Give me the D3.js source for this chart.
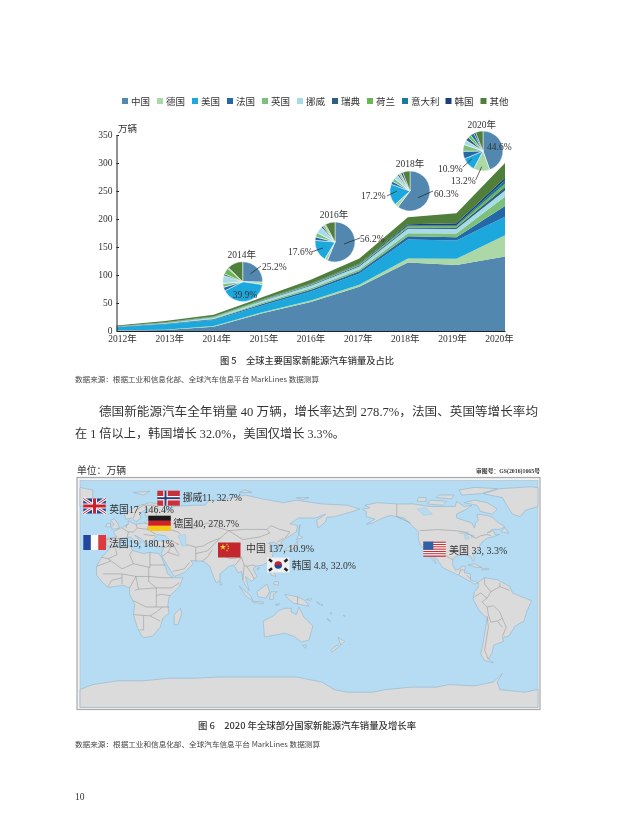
<!DOCTYPE html>
<html><head><meta charset="utf-8">
<script src="https://cdn.jsdelivr.net/npm/d3@7"></script>
<style>
html,body{margin:0;padding:0;background:#fff}
text{font-family:"Liberation Serif","Noto Sans CJK SC",serif;fill:#333}
.sans{font-family:"Noto Sans CJK SC","Liberation Sans",sans-serif}
svg{filter:blur(.3px)}
</style></head><body><div id="c"></div>
<script>
// ---------- chart data ----------
const years = ["2012","2013","2014","2015","2016","2017","2018","2019","2020"];
const seriesNames = ["中国","德国","美国","法国","英国","挪威","瑞典","荷兰","意大利","韩国","其他"];
const china   = [1,1.8,7.5,31.5,52,79,122.5,118,133];
const germany = [.3,.5,1.5,2,2.5,3.5,7,10.8,38];
const usa     = [5.5,9.6,10.5,12,16,20,34,33,33];
const france  = [.7,1.2,1.5,2.5,3,4,5.5,5.5,19];
const uk      = [.2,.4,1,2.5,3,3.5,5.5,7,17];
const norway  = [.5,1,2,3,4.5,5,8,8,11];
const sweden  = [.1,.2,.4,.8,1.2,1.8,2.5,2.5,6];
const nether  = [.3,.6,1.2,1.2,1.5,1.5,2,2.5,6];
const italy   = [.1,.1,.2,.3,.4,.8,1.2,1.5,6];
const korea   = [0,.1,.1,.3,.6,1.2,2.5,3.5,4.8];
const others  = [1.3,2.5,3,4,7,9,12.5,18,26];
const allSeries = [china,germany,usa,france,uk,norway,sweden,nether,italy,korea,others];
const yTicks = [0,50,100,150,200,250,300,350];

const pieYears = ["2014","2016","2018","2020"];
const share2014 = [25.2,2,39.9,3,3,6.5,1.5,5,.5,.4,12.5];
const share2016 = [56.2,2.5,17.6,2.8,3.5,5.5,1.5,1.5,.5,.6,7.8];
const share2018 = [60.3,3,17.2,2.5,2.8,3.5,1.4,1.3,.5,1.6,5.9];
const share2020 = [44.6,13.2,10.9,6.2,5.5,3.6,3,2.5,3,1.6,6];
const pieShares = [share2014,share2016,share2018,share2020];
const pieNotes = [["25.2%","39.9%"],["17.6%","56.2%"],["17.2%","60.3%"],["44.6%","10.9%","13.2%"]];

const mapCountries = ["英国","挪威","德国","法国","中国","韩国","美国"];
const mapSales  = ["17","11","40","19","137","4.8","33"];
const mapGrowth = ["146.4%","32.7%","278.7%","180.1%","10.9%","32.0%","3.3%"];

const caption5 = "图 5\u2003全球主要国家新能源汽车销量及占比";
const caption6 = "图 6\u20032020 年全球部分国家新能源汽车销量及增长率";
const sourceNote = "数据来源：根据工业和信息化部、全球汽车信息平台 MarkLines 数据测算";
const bodyLines = ["德国新能源汽车全年销量 40 万辆，增长率达到 278.7%，法国、英国等增长率均","在 1 倍以上，韩国增长 32.0%，美国仅增长 3.3%。"];

// ---------- map geometry (longitude / latitude, simplified outlines) ----------
const landRings = [
 // North America
 [[-168,66],[-162,67],[-166,69],[-156,71],[-141,70],[-128,70],[-115,68],[-108,68],[-95,68],[-94,72],[-88,68],[-82,69],[-86,66],[-94,62],[-94,59],[-88,57],[-82,55],[-80,51],[-79,55],[-77,57],[-78,62],[-70,61],[-65,59],[-61,55],[-56,52],[-60,50],[-66,50],[-70,47],[-65,49],[-64,46],[-60,46],[-66,44],[-70,43],[-74,40],[-76,37],[-76,35],[-81,31],[-80,26],[-81,25],[-83,29],[-89,30],[-94,29],[-97,27],[-97,22],[-95,18],[-91,19],[-90,21],[-87,21],[-88,16],[-83,15],[-83,10],[-79,9],[-77,8],[-80,7],[-85,10],[-92,14],[-97,16],[-105,20],[-109,26],[-113,31],[-114.5,31],[-112,27],[-110,23],[-112,25],[-116,30],[-118,34],[-122,37],[-124,42],[-124,48],[-130,54],[-135,59],[-146,61],[-152,59],[-160,55],[-165,54],[-158,58],[-165,60],[-165,64]],
 // South America
 [[-77,8],[-72,12],[-62,10.5],[-52,5],[-50,0],[-44,-2.5],[-35,-6],[-39,-15],[-41,-22],[-48,-26],[-53,-34],[-58,-35],[-57,-38],[-65,-41],[-66,-47],[-69,-52],[-65,-55],[-72,-53],[-75,-48],[-73,-38],[-70,-20],[-76,-14],[-81,-5],[-80,1],[-77,4]],
 // Africa
 [[-6,36],[10,37],[11,33.5],[20,31],[25,32],[32,31],[34,28],[37,21],[39,15],[43,12],[51,12],[48,5],[40,-3],[39,-10],[40,-16],[35,-20],[33,-27],[27,-34],[20,-35],[18,-33],[15,-27],[12,-17],[13,-9],[9,-1],[9,4],[4,6],[-4,5],[-8,4.5],[-13,9],[-17,14],[-17,21],[-13,28],[-10,31]],
 // Eurasia
 [[-9,37],[-9,43],[-1,44],[-4,48],[2,51],[8,54],[8,57],[11,55],[14,54],[21,55],[24,59],[30,60],[22,60],[21,63],[25,66],[22,66],[17,62],[18,59],[14,56],[11,59],[6,58],[5,62],[14,68],[25,71],[32,70],[41,67],[35,64.5],[40,65],[44,68],[60,69],[68,69],[72,73],[80,73],[100,77],[113,74],[130,71],[140,73],[160,70],[180,69],[-170,66],[179,62.5],[170,60],[164,59.5],[163,56],[157,51],[156,57],[163,62],[155,59],[142,59],[135,54.5],[141,53],[140,48],[132,43],[128,40],[129,36],[126,34.5],[126,38],[122,40],[118,39],[122,37],[119,35],[122,31],[120,26],[114,22],[108,21],[106,19],[109,13],[105,9],[100,13],[103,2],[100,6],[98,10],[97,17],[94,16],[91,22],[87,21],[80,15],[80,10],[77,8],[73,18],[72,21],[67,25],[57,25.5],[59,23],[52,16],[44,13],[39,21],[35,28],[34,31],[36,36],[27,37],[26,40],[29,41],[41,41],[37,45],[31,46],[28,42],[24,40],[23,37],[19,42],[13,45.5],[18,40],[16,38],[10,44],[3,43],[0,39],[-2,37],[-5,36]],
 // Greenland and Arctic islands
 [[-73,78],[-60,82],[-35,83.5],[-20,81],[-20,73],[-25,69],[-40,65],[-44,60],[-50,62],[-54,68],[-58,75]],
 [[-80,73],[-70,71],[-62,66],[-66,62],[-75,64],[-78,69],[-88,71]],
 [[-90,77],[-75,78],[-62,82],[-80,83],[-92,81]],
 [[-117,70],[-105,69],[-102,72],[-115,73]],
 [[-125,72],[-118,72],[-118,75],[-124,75]],
 [[-110,75],[-98,74],[-96,77],[-108,77]],
 // Atlantic and Caribbean
 [[-59,48],[-56,51.5],[-53,47]],
 [[-85,22],[-80,23],[-74,20],[-78,20]],
 [[-74,19],[-69,19.5],[-68.5,18.5],[-74,18]],
 [[-5,50],[1,51],[0,54],[-3,58.5],[-6,57],[-3,54],[-5,52]],
 [[-10,52],[-6,52],[-6,55],[-9,54.5]],
 [[-24,65],[-14,66],[-14,64.5],[-22,63.5]],
 [[12,79],[25,80],[20,77]],
 [[52,71],[68,77],[56,74]],
 [[95,79],[105,79],[100,81]],
 [[140,75],[150,75],[145,73.5]],
 // Asia Pacific
 [[130,33],[136,34],[141,36],[141,41],[139,38],[133,35.5]],
 [[140,42],[145,43.5],[142,45.5]],
 [[142,46],[143,54],[142,50]],
 [[120,23],[122,25],[121,22]],
 [[109,19],[111,20],[110,18]],
 [[120,18],[122,18],[124,13],[120,14]],
 [[122,7],[126,6],[126,9],[123,9]],
 [[95,5.5],[104,-2],[106,-6],[101,-3]],
 [[105,-6.5],[114,-7],[114,-8.5],[106,-7.5]],
 [[109,1],[117,7],[119,1],[116,-4],[110,-3]],
 [[119,-5],[120,1],[125,1],[122,-1],[122,-5]],
 [[131,-1],[141,-3],[147,-6],[150,-10.5],[143,-9],[138,-8],[133,-4]],
 [[124,-10],[127,-8.5],[123.5,-9]],
 [[148,-5],[152,-4.5],[151,-6]],
 [[156,-7],[161,-9.5],[159,-9.8]],
 [[164,-20],[167,-22],[166,-22.5]],
 [[167,-15],[168,-16.5],[167,-16.5]],
 [[177,-17.5],[178.5,-18],[177.5,-18.5]],
 [[114,-22],[122,-18],[126,-14],[131,-12],[136,-12],[136,-15],[140,-17],[142,-11],[146,-19],[153,-26],[150,-37],[144,-38.5],[138,-34],[131,-31.5],[124,-33],[115,-34.5]],
 [[145,-41],[148,-41],[147,-43.5]],
 [[173,-35],[178,-38],[175,-41]],
 [[172,-41],[174,-42],[168,-46.5],[167,-45]],
 [[49,-12],[50,-16],[47,-25],[44,-25],[44,-17]],
 [[80,9.5],[82,7],[80,6]],
 // Antarctica
 [[-180,-78],[-160,-78],[-150,-76],[-130,-74],[-110,-74],[-100,-72],[-80,-73],[-65,-70],[-58,-63],[-62,-70],[-60,-76],[-40,-78],[-20,-72],[0,-69],[20,-69],[40,-67],[60,-67],[80,-66],[100,-66],[120,-66],[140,-66],[160,-70],[170,-76],[180,-78]]
];
const waterRings = [
 [[47,45],[53,46],[53,40],[54,37],[50,37],[49,41]],
 [[-92,47],[-85,48],[-84,46],[-88,46.5]],
 [[-88,46],[-85,45],[-84,43],[-87,42]],
 [[-83,46],[-80,45],[-82,43]],
 [[-125,66],[-118,67],[-113,62],[-120,61]]
];
const borderLines = [
 [[-141,70],[-141,60],[-130,55]],[[-123,49],[-95,49],[-88,48],[-82,45],[-79,43],[-75,45],[-70,46],[-67,45]],
 [[-117,32.5],[-106,31.5],[-97,26]],[[-92,14.5],[-91,18],[-88,18]],[[-83,11],[-86,14]],
 [[-72,12],[-72,7],[-67,1],[-70,-4],[-74,-7],[-70,-11],[-69,-17],[-67,-23],[-62,-22],[-58,-20],[-60,-15],[-65,-10],[-70,-11]],
 [[-80,-3],[-75,0],[-70,-4]],[[-67,1],[-60,5],[-60,8]],[[-60,5],[-52,2]],[[-70,-18],[-69,-27],[-72,-45],[-69,-52]],[[-58,-20],[-55,-27],[-58,-34]],[[-62,-22],[-58,-27]],
 [[-13,28],[-8,27],[3,19],[12,23],[25,20],[25,32]],[[25,22],[37,22]],[[-17,21],[-6,25]],[[-12,15],[3,15],[14,13],[24,13],[35,12],[43,12]],[[3,15],[3,7]],[[14,13],[9,4]],
 [[24,20],[24,9],[30,4],[35,4],[42,4],[48,8]],[[14,13],[16,3],[13,2]],[[16,3],[30,4]],[[12,-6],[22,-11],[30,-11],[30,-2],[30,4]],[[41,-2],[34,-1],[30,-2]],[[40,-11],[30,-11]],
 [[12,-17],[25,-18],[33,-22]],[[20,-18],[20,-29],[17,-29]],[[25,-18],[30,-15],[35,-11]],[[11,33],[9,30],[12,23]],[[-2,35],[-1,30],[-8,27]],[[-8,5],[-5,10],[3,12]],
 [[-9,42],[-2,43],[3,42.5]],[[3,51],[8,48],[7,44]],[[6,51],[7,54]],[[14,54],[15,51],[12,48],[8,48]],[[15,51],[23,50],[24,54],[21,55]],[[23,50],[30,46]],[[24,54],[28,56],[28,60]],[[20,46],[29,45]],[[12,59],[14,65],[20,69],[29,69]],[[29,69],[30,61]],
 [[30,50],[40,50],[47,48],[49,46]],[[49,51],[60,51],[70,55],[80,51],[87,49],[98,50],[107,50],[117,50],[120,53],[127,50],[135,48],[131,43]],[[87,49],[80,43],[72,40],[67,37],[61,36],[54,38]],
 [[47,38],[44,40],[42,41]],[[44,37],[36,36]],[[44,37],[46,33],[48,30]],[[39,32],[48,29]],[[35,29],[39,32],[42,37]],[[61,36],[61,31],[61,25]],[[46,39],[48,38]],[[61,31],[70,33],[74,37],[80,43]],[[66,25],[70,28],[74,34]],
 [[79,31],[88,27],[97,28],[92,22]],[[97,28],[99,22],[101,21],[106,22],[108,21]],[[99,22],[98,10]],[[101,21],[105,15],[107,11]],[[87,49],[98,42],[111,44],[119,47],[117,50]],[[125,40],[130,43]],[[126,38],[129,38]],[[52,19],[56,24]],[[43,17],[52,19]],[[141,-3],[141,-9]]
];

// ---------- drawing ----------
const svg = d3.select("#c").append("svg").attr("width",620).attr("height",836).style("display","block");
svg.append("rect").attr("width",620).attr("height",836).attr("fill","#fff");

const colors = ["#5288b0","#acd7a6","#1da8dd","#2468a8","#7cc07c","#a7dbe8","#2f5f80","#69b84f","#1b7a9c","#1b3f7a","#4f7f3a"];
const color = d3.scaleOrdinal(seriesNames,colors);

// legend
let legendX = 122;
const legend = svg.append("g");
seriesNames.forEach(name=>{
  legend.append("rect").attr("x",legendX).attr("y",98).attr("width",6).attr("height",6).attr("fill",color(name));
  legend.append("text").attr("x",legendX+9).attr("y",105).attr("font-size",9.5).text(name);
  legendX += 35 + (name.length-2)*8.5;
});

// area chart
const x = d3.scalePoint(years,[116.5,505]);
const xLabel = d3.scalePoint(years,[122,499]);
const y = d3.scaleLinear([0,350],[331,135]);
const rows = years.map((yr,i)=>{const r={year:yr};seriesNames.forEach((n,j)=>r[n]=allSeries[j][i]);return r;});
const stacks = d3.stack().keys(seriesNames)(rows);
const area = d3.area().x(d=>x(d.data.year)).y0(d=>y(d[0])).y1(d=>y(d[1]));
svg.append("g").selectAll("path").data(stacks).join("path").attr("d",area).attr("fill",d=>color(d.key));

const yAxis = svg.append("g").attr("transform","translate(116.5,0)")
  .call(d3.axisLeft(y).tickValues(yTicks).tickSize(-2.5).tickSizeOuter(0).tickPadding(4));
yAxis.selectAll("text").attr("font-size",9.5).attr("dy","0.3em");
yAxis.selectAll("line,path").attr("stroke","#222");
yAxis.attr("font-family",null);
const xAxisLine = svg.append("g").attr("transform","translate(0,331)")
  .call(d3.axisBottom(x).tickValues([]).tickSizeOuter(0));
xAxisLine.select("path").attr("stroke","#222");
const xAxis = svg.append("g").attr("transform","translate(0,331)")
  .call(d3.axisBottom(xLabel).tickSize(0).tickPadding(4.5).tickFormat(d=>d+"年"));
xAxis.select("path").remove();
xAxis.selectAll("text").attr("font-size",9.5);
xAxis.attr("font-family",null);
svg.append("text").attr("x",118).attr("y",132).attr("font-size",9.5).text("万辆");

// pies
const pieLayout = [
 {cx:242.7,cy:281.7,tx:241.7,ty:257.5,notes:[[262,269.5,"start"],[245,298,"middle"]],leads:[[250.7,273.7,261,266]]},
 {cx:335,cy:242,tx:334,ty:217.5,notes:[[288,255,"start"],[360,241.5,"start"]],leads:[[323,248,312,251.7],[344,244,360,238]]},
 {cx:410,cy:191,tx:410,ty:166.5,notes:[[361,198.5,"start"],[434,196.5,"start"]],leads:[[397,191,387,196],[418,197.7,433,191]]},
 {cx:483,cy:151,tx:481.7,ty:127.5,notes:[[487,150,"start"],[438,171.5,"start"],[451,183.5,"start"]],leads:[[471.7,159,462.7,167.3],[481.7,166.7,475.7,180]]}
];
const pie = d3.pie().sort(null);
const arc = d3.arc().innerRadius(0).outerRadius(20);
pieYears.forEach((yr,k)=>{
  const L = pieLayout[k];
  const g = svg.append("g").attr("transform",`translate(${L.cx},${L.cy})`);
  g.selectAll("path").data(pie(pieShares[k])).join("path").attr("d",arc)
    .attr("fill",(d,i)=>color(seriesNames[i])).attr("stroke","#fff").attr("stroke-width",.5);
  svg.append("text").attr("x",L.tx).attr("y",L.ty).attr("text-anchor","middle").attr("font-size",9.5).text(yr+"年");
  L.leads.forEach(l=>svg.append("line").attr("x1",l[0]).attr("y1",l[1]).attr("x2",l[2]).attr("y2",l[3]).attr("stroke","#222").attr("stroke-width",.7));
  pieNotes[k].forEach((t,i)=>svg.append("text").attr("x",L.notes[i][0]).attr("y",L.notes[i][1]).attr("text-anchor",L.notes[i][2]).attr("font-size",9.5).text(t));
});

// captions and body
function line(t,x0,x1,yy,size,opts={}){
  const e = svg.append("text").attr("x",x0).attr("y",yy).attr("font-size",size).attr("textLength",x1-x0).attr("lengthAdjust","spacingAndGlyphs").text(t);
  if(opts.sans) e.attr("class","sans");
  if(opts.weight) e.attr("font-weight",opts.weight);
  if(opts.fill) e.style("fill",opts.fill);
  return e;
}
line(caption5,220,394,363.5,9,{sans:true,weight:500});
line(sourceNote,75,319,382,7,{sans:true,fill:"#444"});
line(bodyLines[0],99,538,416,12,{});
line(bodyLines[1],75,345,438,12,{});
line("单位：万辆",77,126,474,10,{});
line("审图号：GS(2016)1665号",476,540,473,5.5,{weight:700});
line(caption6,198,416,728.5,9,{sans:true,weight:500});
line(sourceNote,75,320,747,7,{sans:true,fill:"#444"});
svg.append("text").attr("x",75).attr("y",800).attr("font-size",9.5).text("10");

// map frame
svg.append("rect").attr("x",77).attr("y",477.5).attr("width",463).attr("height",232).attr("fill","#f2f2f2").attr("stroke","#a9a9a9").attr("stroke-width",1.2);
const mapBox = {x:80,y:480.5,w:458,h:227};
const proj = d3.geoEquirectangular().rotate([-150,0]).scale(458/(2*Math.PI)).translate([309,593])
  .clipExtent([[mapBox.x,mapBox.y],[mapBox.x+mapBox.w,mapBox.y+mapBox.h]]);
const geo = d3.geoPath(proj);
svg.append("rect").attr("x",mapBox.x).attr("y",mapBox.y).attr("width",mapBox.w).attr("height",mapBox.h).attr("fill","#b5dcf3").attr("stroke","#9fb4c0").attr("stroke-width",.5);
function polygon(ring){
  const closed = ring.concat([ring[0]]);
  let f = {type:"Polygon",coordinates:[closed]};
  if(d3.geoArea(f) > 2*Math.PI) f = {type:"Polygon",coordinates:[closed.slice().reverse()]};
  return f;
}
const mapG = svg.append("g");
mapG.selectAll("path.land").data(landRings).join("path").attr("class","land").attr("d",d=>geo(polygon(d)))
  .attr("fill","#dbdbdb").attr("stroke","#93b3c8").attr("stroke-width",.6);
mapG.selectAll("path.water").data(waterRings).join("path").attr("class","water").attr("d",d=>geo(polygon(d)))
  .attr("fill","#b5dcf3").attr("stroke","#93b3c8").attr("stroke-width",.3);
mapG.selectAll("path.border").data(borderLines).join("path").attr("class","border")
  .attr("d",d=>geo({type:"LineString",coordinates:d})).attr("fill","none").attr("stroke","#8e8e8e").attr("stroke-width",.5);

// flags
const W=22.5,H=15;
const flagPainters = {
 "英国":g=>{
   g.append("rect").attr("width",W).attr("height",H).attr("fill","#27408b");
   [[0,0,W,H],[0,H,W,0]].forEach(c=>{
     g.append("line").attr("x1",c[0]).attr("y1",c[1]).attr("x2",c[2]).attr("y2",c[3]).attr("stroke","#fff").attr("stroke-width",3);
     g.append("line").attr("x1",c[0]).attr("y1",c[1]).attr("x2",c[2]).attr("y2",c[3]).attr("stroke","#c8202f").attr("stroke-width",1);
   });
   g.append("rect").attr("x",W/2-2.5).attr("width",5).attr("height",H).attr("fill","#fff");
   g.append("rect").attr("y",H/2-2.5).attr("width",W).attr("height",5).attr("fill","#fff");
   g.append("rect").attr("x",W/2-1.5).attr("width",3).attr("height",H).attr("fill","#c8202f");
   g.append("rect").attr("y",H/2-1.5).attr("width",W).attr("height",3).attr("fill","#c8202f");
 },
 "挪威":g=>{
   g.append("rect").attr("width",W).attr("height",H).attr("fill","#c8313a");
   g.append("rect").attr("x",6).attr("width",4.4).attr("height",H).attr("fill","#fff");
   g.append("rect").attr("y",H/2-2.2).attr("width",W).attr("height",4.4).attr("fill","#fff");
   g.append("rect").attr("x",7.2).attr("width",2).attr("height",H).attr("fill","#2a3f7c");
   g.append("rect").attr("y",H/2-1).attr("width",W).attr("height",2).attr("fill","#2a3f7c");
 },
 "德国":g=>{
   ["#1a1a1a","#d4202a","#f7c812"].forEach((c,i)=>g.append("rect").attr("y",i*H/3).attr("width",W).attr("height",H/3+.2).attr("fill",c));
 },
 "法国":g=>{
   ["#22479c","#fafafa","#dc3a3e"].forEach((c,i)=>g.append("rect").attr("x",i*W/3).attr("width",W/3+.2).attr("height",H).attr("fill",c));
 },
 "中国":g=>{
   g.append("rect").attr("width",W).attr("height",H).attr("fill","#c2272d");
   g.append("path").attr("transform","translate(5,4.5)").attr("d",d3.symbol(d3.symbolStar,12)).attr("fill","#f6d32d");
   [[9,2],[10.3,3.8],[10.3,6],[9,8]].forEach(p=>g.append("path").attr("transform",`translate(${p[0]},${p[1]})`).attr("d",d3.symbol(d3.symbolStar,1.5)).attr("fill","#f6d32d"));
 },
 "韩国":g=>{
   g.append("rect").attr("width",W).attr("height",H).attr("fill","#eef0f2");
   g.append("path").attr("d",d3.arc()({innerRadius:0,outerRadius:3.8,startAngle:-Math.PI/2,endAngle:Math.PI/2})).attr("transform",`translate(${W/2},${H/2})`).attr("fill","#c8202f");
   g.append("path").attr("d",d3.arc()({innerRadius:0,outerRadius:3.8,startAngle:Math.PI/2,endAngle:Math.PI*1.5})).attr("transform",`translate(${W/2},${H/2})`).attr("fill","#1d4a94");
   [[3.5,3,40],[W-3.5,3,-40],[3.5,H-3,-40],[W-3.5,H-3,40]].forEach(b=>g.append("rect").attr("x",-2).attr("y",-1.2).attr("width",4).attr("height",2.4).attr("fill","#222").attr("transform",`translate(${b[0]},${b[1]}) rotate(${b[2]})`));
 },
 "美国":g=>{
   d3.range(13).forEach(i=>g.append("rect").attr("y",i*H/13).attr("width",W).attr("height",H/13+.1).attr("fill",i%2?"#fafafa":"#c8313a"));
   g.append("rect").attr("width",10).attr("height",H*7/13).attr("fill","#2e62a6");
 }
};
const flagLayout = [[83.3,498.5],[157.3,490.7],[148.3,515.7],[83.3,535],[218,542.5],[267,557.5],[423.3,541.7]];
const labelLayout = [[109.3,174,513],[182.7,242,501],[173.3,239,526.5],[109,174,546.5],[246,314,551.5],[291.7,356,568.5],[449,507.3,553.5]];
const wideGap = {"中国":1,"韩国":1,"美国":1};
mapCountries.forEach((n,i)=>{
  const g = svg.append("g").attr("transform",`translate(${flagLayout[i][0]},${flagLayout[i][1]})`);
  flagPainters[n](g);
  const t = n+(wideGap[n]?" ":"")+mapSales[i]+", "+mapGrowth[i];
  svg.append("text").attr("x",labelLayout[i][0]).attr("y",labelLayout[i][2]).attr("font-size",10)
    .attr("textLength",labelLayout[i][1]-labelLayout[i][0]).attr("lengthAdjust","spacingAndGlyphs").text(t);
});
</script></body></html>
